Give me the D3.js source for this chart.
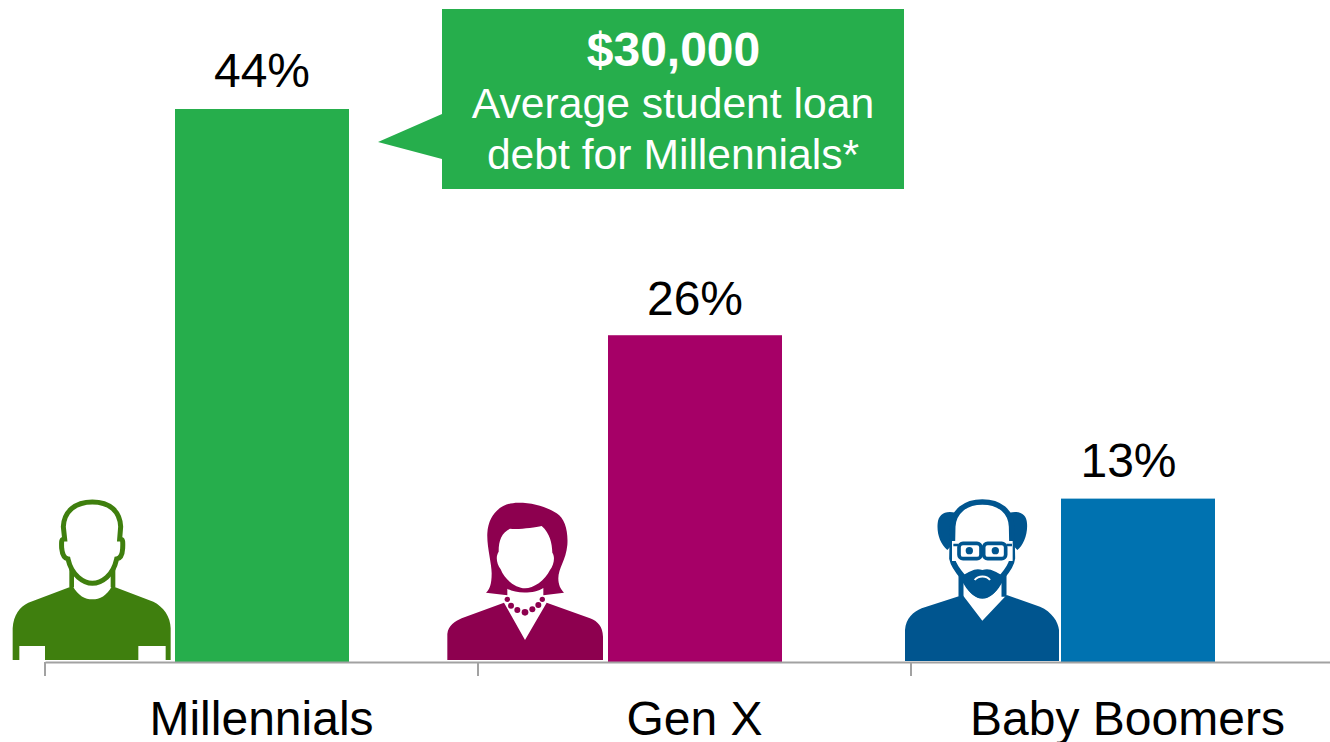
<!DOCTYPE html>
<html>
<head>
<meta charset="utf-8">
<script src="https://cdn.jsdelivr.net/npm/d3@7/dist/d3.min.js"></script>
<style>
  html, body { margin: 0; padding: 0; background: #fff; overflow: hidden; }
  svg { display: block; font-family: "Liberation Sans", Arial, sans-serif; }
</style>
</head>
<body>
<svg id="chart" width="1330" height="742"></svg>
<script>
// Share of each generation carrying student loan debt
const generations = ["Millennials", "Gen X", "Baby Boomers"];
const shares = [44, 26, 13];
const barColors = ["#26AE4C", "#A60067", "#0072B0"];
const iconColors = ["#3F7F0E", "#8D004F", "#00558F"];
const calloutHeadline = "$30,000";
const calloutLines = ["Average student loan", "debt for Millennials*"];

const svg = d3.select("#chart");
const baseline = 662;

const x = d3.scaleBand().domain(generations).range([45, 1344]);
const y = d3.scaleLinear().domain([0, 44]).range([baseline, 109]);

// The Boomers column is narrower and sits right of its band centre
const barWidth = i => (i === 2 ? 154 : 174);
const barShift = i => (i === 2 ? 10.5 : 0.5);
const barCenter = (d, i) => x(d) + x.bandwidth() / 2 + barShift(i);
const labelLift = [22, 20, 22];

const bars = svg.append("g");
generations.forEach((g, i) => {
  bars.append("rect")
    .attr("x", barCenter(g, i) - barWidth(i) / 2)
    .attr("y", y(shares[i]))
    .attr("width", barWidth(i))
    .attr("height", y(0) - y(shares[i]))
    .attr("fill", barColors[i]);
  svg.append("text")
    .attr("x", x(g) + x.bandwidth() / 2 + (i === 2 ? 1 : 0.5))
    .attr("y", y(shares[i]) - labelLift[i])
    .attr("text-anchor", "middle")
    .attr("font-size", 48)
    .attr("fill", "#000")
    .text(shares[i] + "%");
});

// Person icons, drawn on a 3x grid and scaled down
function iconGroup(i, left) {
  return svg.append("g")
    .attr("transform", `translate(${x(generations[i]) + left},490) scale(${1 / 3})`)
    .attr("fill", iconColors[i]);
}

// Millennial: outlined head, T-shirt
const m = iconGroup(0, -45);
m.append("path").attr("d", "M38 510V415C40 375 60 350 85 338L218 288C235 318 255 328 277 328C300 328 320 318 336 288L460 335C490 350 512 380 512 415V510H497V468H415V510H135V468H58V510Z");
m.append("path").attr("fill", "none").attr("stroke", iconColors[0]).attr("stroke-width", 14)
  .attr("d", "M215 222V292M339 222V292");
m.append("path").attr("fill", "#fff").attr("stroke", iconColors[0]).attr("stroke-width", 15)
  .attr("d", "M277 36C225 36 192 65 190 110L194 147C184 147 184 152 185 175C187 195 192 205 204 207C208 225 215 245 235 262C250 275 265 280 277 280C290 280 305 275 320 262C340 245 346 225 350 207C362 205 367 195 368 175C369 152 369 147 359 147L362 110C360 65 330 36 277 36Z");

// Gen X: shoulder-length hair, necklace, V-neck
const f = iconGroup(1, -48);
f.append("path").attr("d", "M52 510V432C55 405 75 395 95 385L222 338L285 450L350 338L480 385C505 395 518 410 519 440V510Z");
f.append("path").attr("d", "M265 38C210 38 175 75 172 130C170 170 185 220 185 250C185 285 178 300 168 308L232 316V296C255 312 315 312 340 294V316L402 308C392 298 385 285 385 265C385 235 408 210 412 165C415 125 405 85 380 70C350 50 310 38 265 38Z");
f.append("path").attr("fill", "#fff").attr("d", "M240 116C265 120 315 112 335 108C360 130 366 160 367 188C376 200 372 225 360 240C345 272 310 295 285 295C260 295 225 272 212 238C200 222 196 200 206 185C206 150 215 128 240 116Z");
const beads = [[232, 328, 8], [243, 347, 9], [262, 360, 9], [285, 367, 10], [307, 358, 9], [325, 345, 9], [337, 328, 8]];
f.selectAll("circle").data(beads).join("circle")
  .attr("cx", d => d[0]).attr("cy", d => d[1]).attr("r", d => d[2]);

// Boomer: receding hair, glasses, goatee
const b = iconGroup(2, -21);
b.append("path").attr("d", "M45 513V420C48 385 70 365 95 355L218 315L277 392L350 315L450 350C485 365 505 395 507 420V513Z");
b.append("path").attr("d", "M197 68C165 60 145 73 143 100C140 130 150 162 172 180L200 150ZM358 68C390 60 410 73 411 100C414 130 400 167 382 180L354 150Z");
b.append("path").attr("fill", "none").attr("stroke", iconColors[2]).attr("stroke-width", 15)
  .attr("d", "M213 250V320M342 250V320");
b.append("path").attr("fill", "#fff").attr("stroke", iconColors[2]).attr("stroke-width", 17)
  .attr("d", "M277 36C225 36 190 65 188 110L186 205C190 225 205 245 220 262C240 305 265 318 277 318C290 318 315 305 335 262C350 245 365 225 367 205L365 110C363 65 330 36 277 36Z");
b.append("path").attr("d", "M220 255C240 245 255 232 277 240C300 232 315 245 335 255C335 290 310 324 277 324C245 324 222 290 220 255Z");
b.append("path").attr("fill", "none").attr("stroke", "#fff").attr("stroke-width", 6)
  .attr("d", "M254 270C265 256 290 256 300 270");
b.append("rect").attr("x", 186).attr("y", 153).attr("width", 182).attr("height", 60).attr("fill", "#fff");
b.selectAll(".lens").data([[207, 160], [281, 160]]).join("rect")
  .attr("x", d => d[0]).attr("y", d => d[1]).attr("width", 66).attr("height", 46).attr("rx", 12)
  .attr("fill", "#fff").attr("stroke", iconColors[2]).attr("stroke-width", 11);
b.append("path").attr("fill", "none").attr("stroke", iconColors[2]).attr("stroke-width", 8)
  .attr("d", "M273 180H281M190 165H205M349 165H366");
b.selectAll(".pupil").data([[238, 182], [316, 182]]).join("circle")
  .attr("cx", d => d[0]).attr("cy", d => d[1]).attr("r", 11);

// Category axis: labels on band centres, tick marks on band edges
const axis = svg.append("g").attr("transform", `translate(0,${baseline})`)
  .call(d3.axisBottom(x).tickSize(0).tickPadding(39));
axis.select(".domain").attr("stroke", "#A2A2A2").attr("stroke-width", 2);
axis.selectAll("text")
  .attr("font-family", "'Liberation Sans', Arial, sans-serif")
  .attr("font-size", 48)
  .attr("fill", "#000");
axis.selectAll(".edge").data(generations).join("line")
  .attr("class", "edge")
  .attr("x1", d => x(d)).attr("x2", d => x(d))
  .attr("y1", 0).attr("y2", 14)
  .attr("stroke", "#A2A2A2").attr("stroke-width", 2);

// Callout box with its pointer toward the Millennials bar
svg.append("path").attr("fill", barColors[0])
  .attr("d", "M442 9H904V189H442V159L378 142L442 114Z");
const calloutX = 673;
svg.append("text").attr("x", calloutX + 0.5).attr("y", 66).attr("text-anchor", "middle")
  .attr("font-size", 48).attr("font-weight", "bold").attr("fill", "#fff").text(calloutHeadline);
svg.selectAll(".callout-line").data(calloutLines).join("text")
  .attr("class", "callout-line")
  .attr("x", calloutX).attr("y", (d, i) => 118 + i * 51).attr("text-anchor", "middle")
  .attr("font-size", 42.67).attr("fill", "#fff").text(d => d);
</script>
</body>
</html>
